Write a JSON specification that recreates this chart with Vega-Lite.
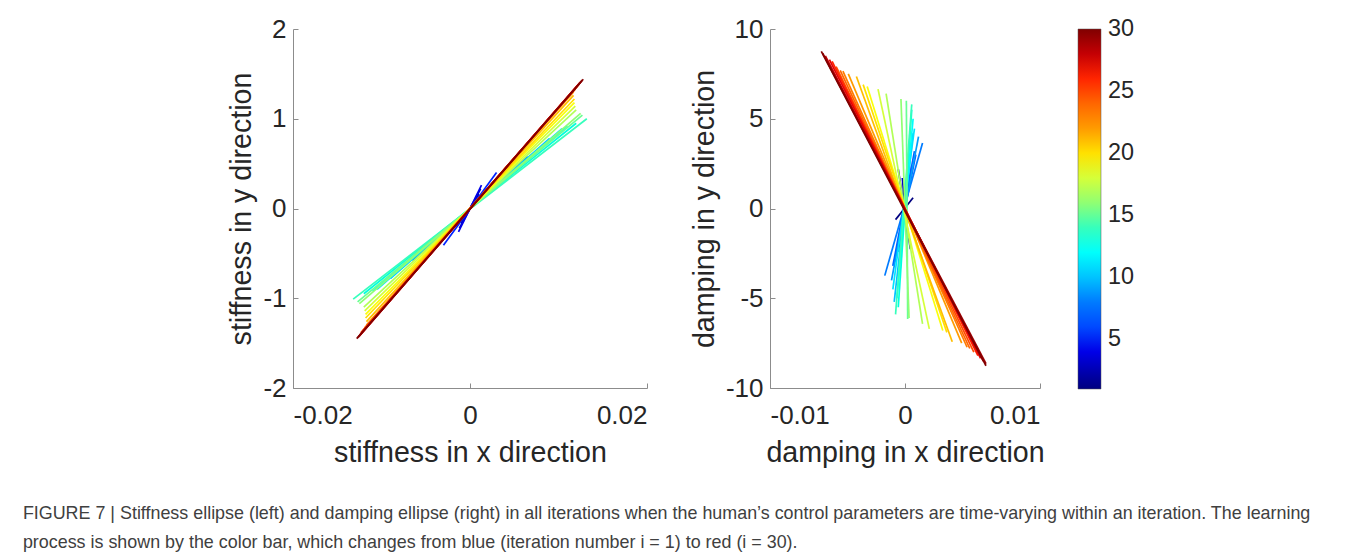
{
  "$schema": "https://vega.github.io/schema/vega-lite/v6.json",
  "padding": {"left": 22, "top": 16, "right": 5, "bottom": 2},
  "datasets": {
    "stiffness": [
      {"i":1,"x":0.0008,"y":0.12},{"i":1,"x":-0.0008,"y":-0.12},
      {"i":2,"x":0.0010,"y":0.16},{"i":2,"x":-0.0010,"y":-0.16},
      {"i":3,"x":0.0012,"y":0.22},{"i":3,"x":-0.0012,"y":-0.22},
      {"i":4,"x":0.0013,"y":0.26},{"i":4,"x":-0.0013,"y":-0.26},
      {"i":5,"x":0.0030,"y":0.40},{"i":5,"x":-0.0030,"y":-0.41},
      {"i":6,"x":0.0045,"y":0.45},{"i":6,"x":-0.0045,"y":-0.45},
      {"i":7,"x":0.0055,"y":0.50},{"i":7,"x":-0.0055,"y":-0.50},
      {"i":8,"x":0.0065,"y":0.58},{"i":8,"x":-0.0065,"y":-0.58},
      {"i":9,"x":0.0080,"y":0.68},{"i":9,"x":-0.0080,"y":-0.68},
      {"i":10,"x":0.0090,"y":0.78},{"i":10,"x":-0.0090,"y":-0.78},
      {"i":11,"x":0.0104,"y":0.89},{"i":11,"x":-0.0105,"y":-0.90},
      {"i":12,"x":0.0110,"y":0.92},{"i":12,"x":-0.0110,"y":-0.92},
      {"i":13,"x":0.0120,"y":0.95},{"i":13,"x":-0.0120,"y":-0.95},
      {"i":14,"x":0.0132,"y":1.00},{"i":14,"x":-0.0132,"y":-1.01},
      {"i":15,"x":0.0127,"y":1.04},{"i":15,"x":-0.0127,"y":-1.04},
      {"i":16,"x":0.0125,"y":1.06},{"i":16,"x":-0.0125,"y":-1.06},
      {"i":17,"x":0.0120,"y":1.10},{"i":17,"x":-0.0120,"y":-1.10},
      {"i":18,"x":0.0119,"y":1.14},{"i":18,"x":-0.0119,"y":-1.14},
      {"i":19,"x":0.0118,"y":1.18},{"i":19,"x":-0.0118,"y":-1.18},
      {"i":20,"x":0.0118,"y":1.22},{"i":20,"x":-0.0118,"y":-1.22},
      {"i":21,"x":0.0117,"y":1.26},{"i":21,"x":-0.0117,"y":-1.26},
      {"i":22,"x":0.0117,"y":1.30},{"i":22,"x":-0.0117,"y":-1.30},
      {"i":23,"x":0.0119,"y":1.33},{"i":23,"x":-0.0119,"y":-1.33},
      {"i":24,"x":0.0121,"y":1.36},{"i":24,"x":-0.0121,"y":-1.36},
      {"i":25,"x":0.0123,"y":1.38},{"i":25,"x":-0.0123,"y":-1.38},
      {"i":26,"x":0.0124,"y":1.40},{"i":26,"x":-0.0124,"y":-1.40},
      {"i":27,"x":0.0125,"y":1.41},{"i":27,"x":-0.0125,"y":-1.42},
      {"i":28,"x":0.0126,"y":1.42},{"i":28,"x":-0.0126,"y":-1.43},
      {"i":29,"x":0.0127,"y":1.43},{"i":29,"x":-0.0127,"y":-1.44},
      {"i":30,"x":0.0128,"y":1.44},{"i":30,"x":-0.0128,"y":-1.45}
    ],
    "damping": [
      {"i":1,"x":0.0006,"y":0.6},{"i":1,"x":-0.0007,"y":-0.62},
      {"i":2,"x":-0.0005,"y":2.2},{"i":2,"x":0.0004,"y":-2.26},
      {"i":3,"x":-0.0002,"y":1.7},{"i":3,"x":0.0002,"y":-1.7},
      {"i":4,"x":0.0003,"y":1.8},{"i":4,"x":-0.0003,"y":-1.8},
      {"i":5,"x":0.0005,"y":2.4},{"i":5,"x":-0.0005,"y":-2.4},
      {"i":6,"x":0.0008,"y":3.0},{"i":6,"x":-0.0008,"y":-3.0},
      {"i":7,"x":0.0007,"y":3.2},{"i":7,"x":-0.0009,"y":-3.2},
      {"i":8,"x":0.0013,"y":3.65},{"i":8,"x":-0.0015,"y":-3.74},
      {"i":9,"x":0.0010,"y":4.0},{"i":9,"x":-0.0010,"y":-4.0},
      {"i":10,"x":0.0006,"y":4.2},{"i":10,"x":-0.0008,"y":-5.2},
      {"i":11,"x":0.0007,"y":4.45},{"i":11,"x":-0.0009,"y":-4.5},
      {"i":12,"x":0.0006,"y":5.0},{"i":12,"x":-0.0006,"y":-5.0},
      {"i":13,"x":0.0005,"y":5.5},{"i":13,"x":-0.0005,"y":-5.5},
      {"i":14,"x":0.0005,"y":5.8},{"i":14,"x":-0.0007,"y":-5.9},
      {"i":15,"x":0.0001,"y":6.0},{"i":15,"x":0.0002,"y":-6.16},
      {"i":16,"x":-0.0003,"y":6.1},{"i":16,"x":0.0003,"y":-6.1},
      {"i":17,"x":-0.0014,"y":6.4},{"i":17,"x":0.0013,"y":-6.43},
      {"i":18,"x":-0.0020,"y":6.65},{"i":18,"x":0.0018,"y":-6.71},
      {"i":19,"x":-0.0028,"y":6.8},{"i":19,"x":0.0028,"y":-6.8},
      {"i":20,"x":-0.0031,"y":6.9},{"i":20,"x":0.0031,"y":-6.9},
      {"i":21,"x":-0.0036,"y":7.35},{"i":21,"x":0.0035,"y":-7.42},
      {"i":22,"x":-0.0042,"y":7.5},{"i":22,"x":0.0042,"y":-7.5},
      {"i":23,"x":-0.0046,"y":7.65},{"i":23,"x":0.0046,"y":-7.73},
      {"i":24,"x":-0.0048,"y":7.7},{"i":24,"x":0.0048,"y":-7.8},
      {"i":25,"x":-0.0051,"y":7.9},{"i":25,"x":0.0051,"y":-8.0},
      {"i":26,"x":-0.0054,"y":8.2},{"i":26,"x":0.0054,"y":-8.2},
      {"i":27,"x":-0.0056,"y":8.3},{"i":27,"x":0.0056,"y":-8.35},
      {"i":28,"x":-0.0059,"y":8.5},{"i":28,"x":0.0058,"y":-8.5},
      {"i":29,"x":-0.0061,"y":8.65},{"i":29,"x":0.0060,"y":-8.65},
      {"i":30,"x":-0.0062,"y":8.75},{"i":30,"x":0.0060,"y":-8.76}
    ]
  },
  "title": {
    "text": ["FIGURE 7 | Stiffness ellipse (left) and damping ellipse (right) in all iterations when the human’s control parameters are time-varying within an iteration. The learning", "process is shown by the color bar, which changes from blue (iteration number i = 1) to red (i = 30)."],
    "orient": "bottom",
    "anchor": "start",
    "frame": "bounds",
    "dx": -205,
    "offset": 38,
    "fontSize": 17.9,
    "fontWeight": "normal",
    "font": "Liberation Sans",
    "color": "#404040",
    "lineHeight": 29
  },
  "spacing": 42,
  "hconcat": [
    {
      "width": 354,
      "height": 359,
      "data": {"name": "stiffness"},
      "mark": {"type": "line", "strokeWidth": 1.7},
      "encoding": {
        "x": {"field": "x", "type": "quantitative", "scale": {"domain": [-0.02, 0.02], "nice": false, "zero": false},
              "axis": {"title": "stiffness in x direction", "values": [-0.02, 0, 0.02], "format": "~g", "labelPadding": 19, "titlePadding": 10}},
        "y": {"field": "y", "type": "quantitative", "scale": {"domain": [-2, 2], "nice": false},
              "axis": {"title": "stiffness in y direction", "values": [-2, -1, 0, 1, 2], "format": "d", "labelPadding": 12}},
        "detail": {"field": "i"},
        "color": {"field": "i", "type": "quantitative"}
      }
    },
    {
      "width": 270,
      "height": 359,
      "data": {"name": "damping"},
      "mark": {"type": "line", "strokeWidth": 1.7},
      "encoding": {
        "x": {"field": "x", "type": "quantitative", "scale": {"domain": [-0.01, 0.01], "nice": false, "zero": false},
              "axis": {"title": "damping in x direction", "values": [-0.01, 0, 0.01], "format": "~g", "labelPadding": 19, "titlePadding": 10}},
        "y": {"field": "y", "type": "quantitative", "scale": {"domain": [-10, 10], "nice": false},
              "axis": {"title": "damping in y direction", "values": [-10, -5, 0, 5, 10], "format": "d", "labelPadding": 12}},
        "detail": {"field": "i"},
        "color": {
          "field": "i", "type": "quantitative",
          "scale": {"type": "linear", "domain": [1, 4.625, 8.25, 11.875, 15.5, 19.125, 22.75, 26.375, 30],
                    "range": ["#000080", "#0000ff", "#0080ff", "#00ffff", "#80ff80", "#ffff00", "#ff8000", "#ff0000", "#800000"]},
          "legend": {"title": null, "direction": "vertical", "gradientLength": 360, "gradientThickness": 23,
                     "values": [5, 10, 15, 20, 25, 30], "labelFontSize": 23.4, "labelOffset": 7, "offset": 33, "padding": 0,
                     "labelBaseline": "middle", "labelColor": "#262626", "gradientStrokeColor": "#555", "gradientStrokeWidth": 0.5,
                     "encode": {"labels": {"update": {"baseline": {"value": "middle"}}}}}
        }
      }
    }
  ],
  "config": {
    "locale": {"number": {"decimal": ".", "thousands": ",", "grouping": [3], "currency": ["$", ""], "minus": "-"}},
    "font": "Liberation Sans",
    "view": {"stroke": null},
    "axis": {
      "grid": false,
      "domainColor": "#8c8c8c",
      "tickColor": "#8c8c8c",
      "tickSize": -5,
      "labelFontSize": 26,
      "labelColor": "#262626",
      "titleFontSize": 28.6,
      "titleColor": "#262626",
      "titleFontWeight": "normal",
      "titlePadding": 6,
      "labelFont": "Liberation Sans",
      "titleFont": "Liberation Sans"
    },
    "legend": {"labelFont": "Liberation Sans"}
  }
}
